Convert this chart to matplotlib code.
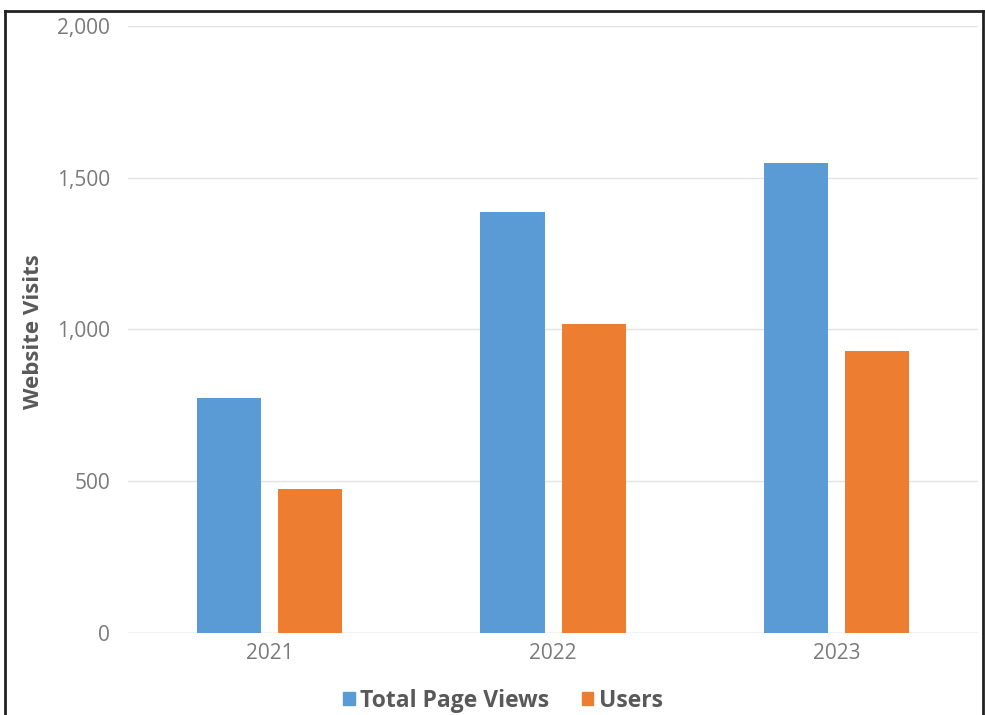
import matplotlib
matplotlib.use("Agg")
import matplotlib.pyplot as plt
import numpy as np
from matplotlib.lines import Line2D
from matplotlib.patches import Patch

years = ["2021", "2022", "2023"]
page_views = [774, 1387, 1549]
users = [474, 1018, 929]
series_names = ["Total Page Views", "Users"]
yticks = [0, 500, 1000, 1500, 2000]

blue = "#5B9BD5"
orange = "#ED7D31"
grey = "#595959"
tick_grey = "#7A7A7A"

plt.rcParams['font.family'] = ['Open Sans', 'DejaVu Sans']

fig = plt.figure(figsize=(9.85, 7.15), dpi=100)
ax = fig.add_axes([128/985, 1-633/715, 850/985, 607/715])

x = np.arange(len(years))
w = 0.226
off = 0.143
ax.bar(x - off, page_views, w, color=blue, zorder=3)
ax.bar(x + off, users, w, color=orange, zorder=3)

ax.set_xlim(-0.5, 2.5)
ax.set_ylim(0, 2000)
ax.set_yticks(yticks)
ax.set_yticklabels([f"{v:,}" for v in yticks], color=tick_grey, fontsize=15)
ax.set_xticks(x)
ax.set_xticklabels(years, color=tick_grey, fontsize=15)
ax.tick_params(length=0)
ax.tick_params(axis='y', pad=13)
ax.tick_params(axis='x', pad=7)
ax.grid(axis='y', color='#E3E3E3', linewidth=1, zorder=0)
for s in ax.spines.values():
    s.set_visible(False)
ax.axhline(0, color='#D9D9D9', linewidth=1, zorder=2)

fig.text(34/985, 1-(332/715), "Website Visits", rotation=90, va='center', ha='center',
         color=grey, fontsize=16, fontweight='bold')

handles = [Patch(color=blue), Patch(color=orange)]
fig.legend(handles, series_names, loc='center', bbox_to_anchor=(503/985, 1-701/715),
           ncol=2, frameon=False, handlelength=0.5, handleheight=0.5,
           handletextpad=0.25, columnspacing=1.4, labelcolor=grey,
           prop={'family': ['Open Sans', 'DejaVu Sans'], 'weight': 'bold', 'size': 16.5})

# figure border
fig.add_artist(Line2D([5/985, 5/985], [0, 1-11/715], transform=fig.transFigure, color='#222222', lw=2))
fig.add_artist(Line2D([5/985, 983/985], [1-11/715, 1-11/715], transform=fig.transFigure, color='#222222', lw=2))
fig.add_artist(Line2D([983/985, 983/985], [0, 1-11/715], transform=fig.transFigure, color='#222222', lw=2))

fig.savefig("out.png", dpi=100)
